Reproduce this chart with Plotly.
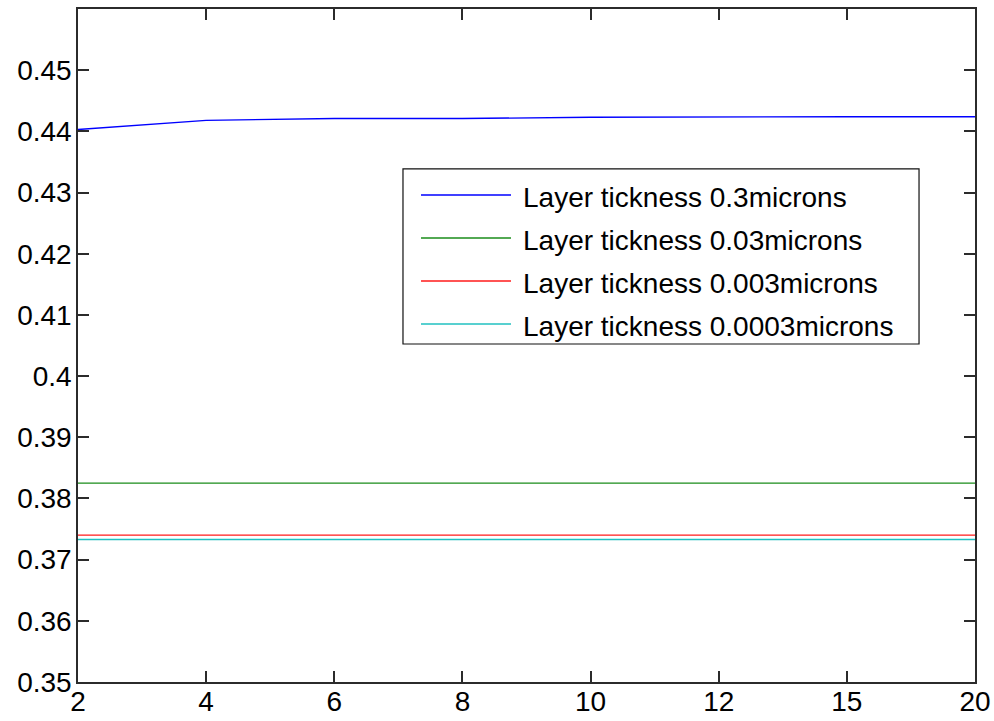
import plotly.graph_objects as go

# Number of layers (x categories) and the computed value for each layer thickness
layers = ["2", "4", "6", "8", "10", "12", "15", "20"]
thick_03 = [0.4403, 0.4418, 0.4421, 0.4421, 0.4423, 0.4424, 0.4424, 0.4424]
thick_003 = [0.3825] * 8
thick_0003 = [0.3740] * 8
thick_00003 = [0.3733] * 8

series_names = [
    "Layer tickness 0.3microns",
    "Layer tickness 0.03microns",
    "Layer tickness 0.003microns",
    "Layer tickness 0.0003microns",
]
series_values = [thick_03, thick_003, thick_0003, thick_00003]
series_colors = ["#0000ff", "#1a8c1a", "#ff1a1a", "#20c0c0"]

y_ticks = [0.35, 0.36, 0.37, 0.38, 0.39, 0.40, 0.41, 0.42, 0.43, 0.44, 0.45]
y_ticktext = ["0.35", "0.36", "0.37", "0.38", "0.39", "0.4", "0.41", "0.42", "0.43", "0.44", "0.45"]

FONT = "Arial, Liberation Sans, sans-serif"
AXIS_COLOR = "#2b2b2b"
TICK_SIZE = 28

fig = go.Figure()
for name, vals, col in zip(series_names, series_values, series_colors):
    fig.add_trace(go.Scatter(x=layers, y=vals, mode="lines", name=name,
                             line=dict(color=col, width=1.4), showlegend=False))

# Boxed legend drawn inside the axes (paper coordinates)
box_x0, box_x1 = 0.3623, 0.9376
box_y0, box_y1 = 0.5022, 0.7623
row_y = [0.7236, 0.6597, 0.5958, 0.5319]
line_x0, line_x1, text_x = 0.3824, 0.4827, 0.4939

shapes = [dict(type="rect", xref="paper", yref="paper", x0=box_x0, x1=box_x1,
               y0=box_y0, y1=box_y1, line=dict(color="#111111", width=1.2),
               fillcolor="white", layer="above")]
annotations = []
for name, col, yy in zip(series_names, series_colors, row_y):
    shapes.append(dict(type="line", xref="paper", yref="paper", x0=line_x0, x1=line_x1,
                       y0=yy, y1=yy, line=dict(color=col, width=1.4), layer="above"))
    annotations.append(dict(xref="paper", yref="paper", x=text_x, y=yy - 0.003,
                            text=name, showarrow=False, xanchor="left", yanchor="middle",
                            font=dict(family=FONT, size=28, color="black")))

axis_common = dict(showgrid=False, zeroline=False, automargin=False,
                   showline=True, linecolor=AXIS_COLOR, linewidth=1.5, mirror="ticks",
                   ticks="inside", ticklen=11, tickwidth=1.5, tickcolor=AXIS_COLOR,
                   tickfont=dict(family=FONT, size=TICK_SIZE, color="black"))

fig.update_layout(
    width=994, height=721,
    margin=dict(l=78, r=19, t=9, b=39),
    paper_bgcolor="white", plot_bgcolor="white",
    font=dict(family=FONT, size=TICK_SIZE, color="black"),
    shapes=shapes, annotations=annotations,
    xaxis=dict(type="category", range=[0, 7], ticklabelstandoff=-6, **axis_common),
    yaxis=dict(range=[0.35, 0.46], tickvals=y_ticks, ticktext=y_ticktext,
               ticklabelstandoff=-1, **axis_common),
)

fig.write_html("out.html")
